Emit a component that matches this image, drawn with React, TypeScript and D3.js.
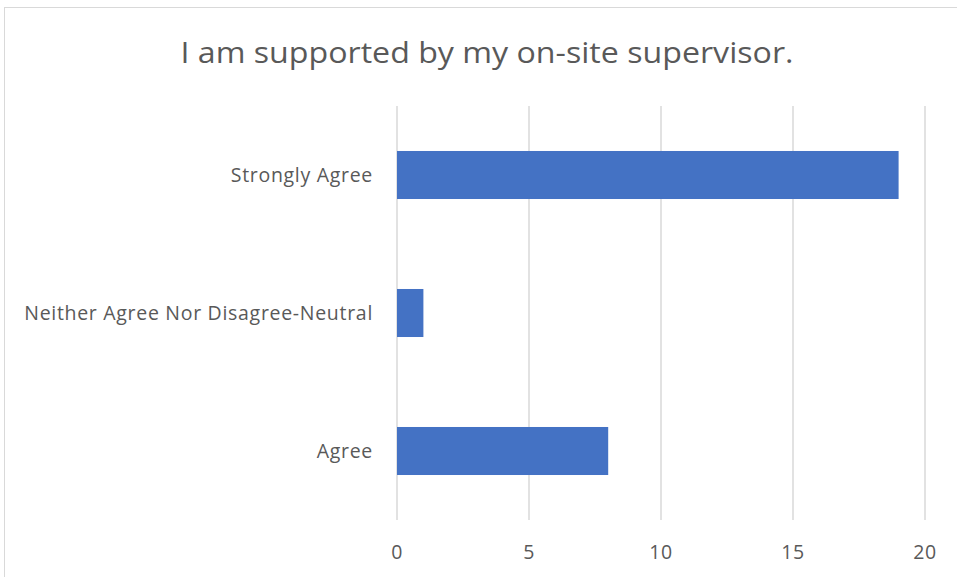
import React from "react";
import * as d3 from "d3";

const categories = ["Strongly Agree", "Neither Agree Nor Disagree-Neutral", "Agree"];
const values = [19, 1, 8];
const tickValues = [0, 5, 10, 15, 20];
const title = "I am supported by my on-site supervisor.";

export default function App() {
  const W = 957, H = 577;
  const left = 397, right = 925, top = 106, bottom = 520;
  const x = d3.scaleLinear().domain([0, 20]).range([left, right]);
  const y = d3.scaleBand().domain(categories).range([top, bottom]).paddingInner(0.652).paddingOuter(0.326);
  const font = "'Open Sans', sans-serif";
  const col = "#595959";
  return (
    <svg width={W} height={H} style={{ position: "absolute", left: 0, top: 0 }} fontFamily={font}>
      <rect x={0} y={0} width={W} height={H} fill="#fff" />
      <rect x={4.5} y={7.5} width={W + 10} height={H + 10} fill="none" stroke="#d9d9d9" strokeWidth={1} />
      <text x={487} y={63} textAnchor="middle" fontSize={30} fill={col} textLength={613} lengthAdjust="spacingAndGlyphs">{title}</text>
      {tickValues.map(t => (
        <line key={t} x1={x(t)} x2={x(t)} y1={top} y2={bottom} stroke="#d9d9d9" strokeWidth={1.5} />
      ))}
      {categories.map((c, i) => (
        <rect key={c} x={x(0)} y={y(c)!} width={x(values[i]) - x(0)} height={y.bandwidth()} fill="#4472c4" />
      ))}
      {tickValues.map(t => (
        <text key={t} x={x(t)} y={559} textAnchor="middle" fontSize={19.5} fill={col} letterSpacing={0.6}>{t}</text>
      ))}
      {categories.map(c => (
        <text key={c} x={373} y={y(c)! + y.bandwidth() / 2 + 7} textAnchor="end" fontSize={19.5} fill={col} letterSpacing={0.7}>{c}</text>
      ))}
    </svg>
  );
}
